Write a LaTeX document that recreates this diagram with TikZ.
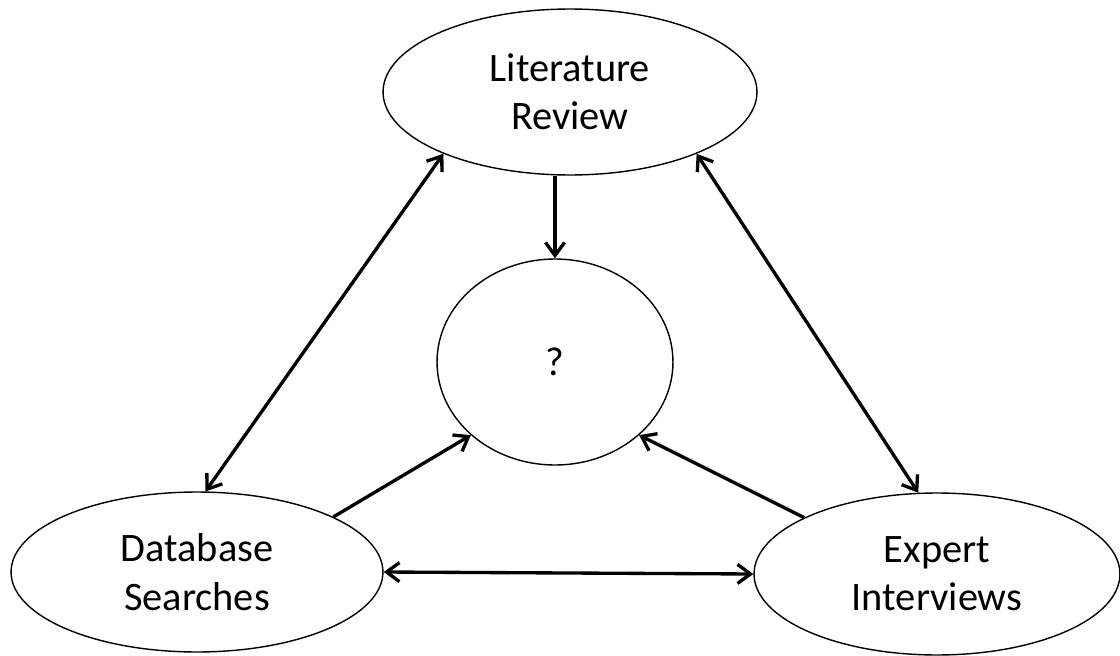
\documentclass[tikz,border=0pt]{standalone}
\usepackage{fontspec}
\setmainfont{Carlito}
\usepackage{tikz}
\usetikzlibrary{shapes.geometric, arrows.meta}

\tikzset{
    bubble/.style={ellipse, draw, line width=0.8pt, inner sep=0pt, align=center, font=\fontsize{23}{27.5}\selectfont},
    link/.style={line width=1.9pt, -{Straight Barb[length=2.6mm,width=3.8mm,line width=1.9pt]}},
    twoway/.style={link, {Straight Barb[length=2.6mm,width=3.8mm,line width=1.9pt]}-{Straight Barb[length=2.6mm,width=3.8mm,line width=1.9pt]}}
}

\begin{document}
\begin{tikzpicture}[x=0.02cm, y=-0.02cm]
    \useasboundingbox (0,0) rectangle (1120,656);

    % the four bubbles
    \node[bubble, minimum width=7.48cm, minimum height=3.32cm] (lit) at (570,92) {Literature\\Review};
    \node[bubble, minimum width=4.72cm, minimum height=4.12cm] (q) at (555,362) {?};
    \node[bubble, minimum width=7.44cm, minimum height=3.20cm] (db) at (197,572) {Database\\Searches};
    \node[bubble, minimum width=7.32cm, minimum height=3.24cm] (ex) at (937,574) {Expert\\Interviews};

    % into the middle
    \draw[link] (q.north |- lit.south) -- (q.north);
    \draw[link] (db.22) -- (q.221);
    \draw[link] (ex.157) -- (q.319);

    % round the outside
    \draw[twoway] (lit.206) -- (db.84);
    \draw[twoway] (lit.334) -- (ex.103);
    \draw[twoway] (db.east) -- (ex.west);

\end{tikzpicture}
\end{document}
